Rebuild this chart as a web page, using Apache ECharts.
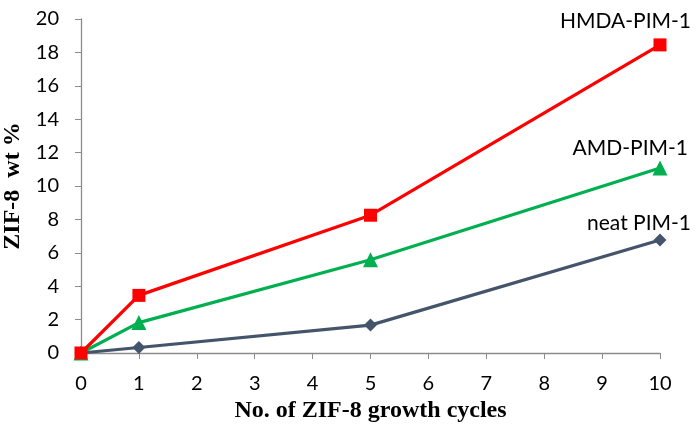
<!DOCTYPE html>
<html><head><meta charset="utf-8">
<script src="https://cdn.jsdelivr.net/npm/echarts@6/dist/echarts.min.js"></script>
<style>html,body{margin:0;padding:0;background:#fff}#c{width:700px;height:431px}</style>
</head><body><div id="c"></div>
<script>
const cycles = [0, 1, 5, 10];
const hmda = [0, 3.45, 8.25, 18.45];
const amd = [0, 1.82, 5.58, 11.08];
const neat = [0, 0.33, 1.67, 6.77];
const seriesNames = ['HMDA-PIM-1', 'AMD-PIM-1', 'neat PIM-1'];

function pts(vals){ return cycles.map((c,i)=>[c, vals[i]]); }
function mk(name, vals, color, symbol, size, off){
  const d = pts(vals).map((p,i)=>({value:p}));
  d[d.length-1].label = {show:true, formatter:name, position:'inside', align:'right', verticalAlign:'middle',
    offset:off, color:'#000', fontSize:21, fontFamily:'Lato, "Open Sans", sans-serif'};
  return {name, type:'line', data:d, symbol, symbolSize:size, lineStyle:{color, width:3.2},
    itemStyle:{color}, label:{show:false}, z: 3};
}
const chart = echarts.init(document.getElementById('c'), null, {renderer:'canvas'});
chart.setOption({
  animation:false,
  grid:{left:81, right:40, top:19, bottom:78, containLabel:false, outerBoundsMode:'none'},
  xAxis:{type:'value', min:0, max:10, interval:1,
    name:'No. of ZIF-8 growth cycles', nameLocation:'middle', nameGap:42,
    nameTextStyle:{fontFamily:'"Liberation Serif", serif', fontWeight:'bold', fontSize:24, color:'#000'},
    axisLine:{show:true, lineStyle:{color:'#8c8c8c', width:1.3}},
    axisTick:{show:true, length:6, lineStyle:{color:'#8c8c8c'}},
    axisLabel:{fontSize:20, color:'#000', margin:21, fontFamily:'Lato, "Open Sans", sans-serif'},
    splitLine:{show:false}},
  yAxis:{type:'value', min:0, max:20, interval:2,
    name:'ZIF-8  wt %', nameLocation:'middle', nameGap:45, nameRotate:90,
    nameTextStyle:{fontFamily:'"Liberation Serif", serif', fontWeight:'bold', fontSize:24, color:'#000'},
    axisLine:{show:true, lineStyle:{color:'#8c8c8c', width:1.3}},
    axisTick:{show:true, length:6, lineStyle:{color:'#8c8c8c'}},
    axisLabel:{fontSize:20, color:'#000', margin:22, fontFamily:'Lato, "Open Sans", sans-serif'},
    splitLine:{show:false}},
  series:[
    mk(seriesNames[2], neat, '#44546a', 'diamond', 13, [31,-17]),
    mk(seriesNames[1], amd, '#00b050', 'triangle', 15, [28,-20]),
    mk(seriesNames[0], hmda, '#ff0000', 'rect', 13, [31,-24])
  ]
});
</script></body></html>
